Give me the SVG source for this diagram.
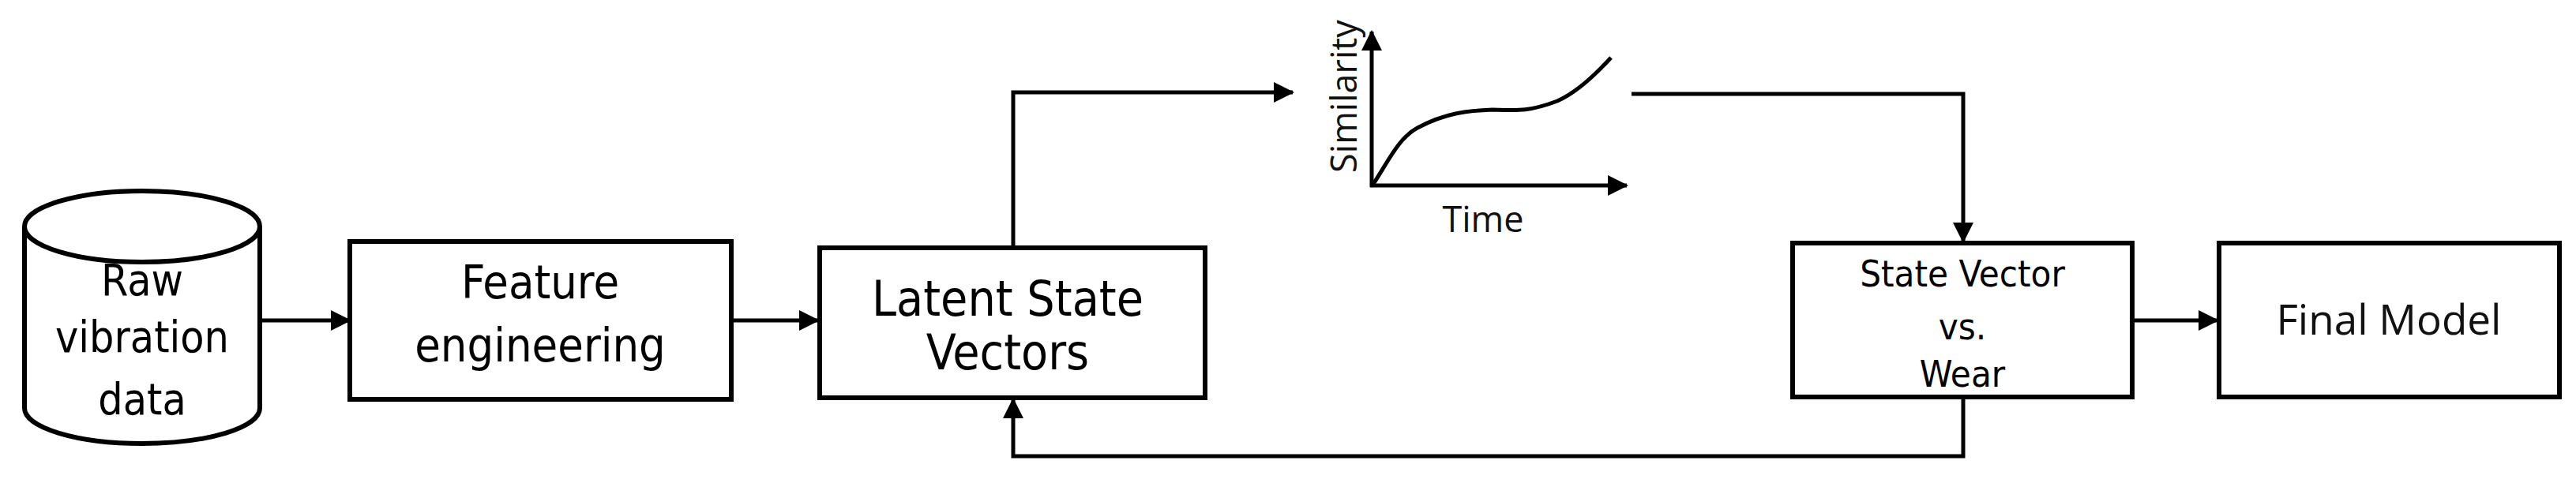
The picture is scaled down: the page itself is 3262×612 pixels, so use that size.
<svg xmlns="http://www.w3.org/2000/svg" width="3262" height="612" viewBox="0 0 3262 612">
<defs>
<style>
.box{fill:#fff;stroke:#000;stroke-width:6}
.ln{fill:none;stroke:#000;stroke-width:5}
.t{font-family:"DejaVu Sans Condensed","DejaVu Sans",sans-serif;fill:#000;text-anchor:middle}
.c{font-family:"Open Sans","Liberation Sans",sans-serif;fill:#111;text-anchor:middle}
</style>
<marker id="a" viewBox="0 0 26 26" refX="24" refY="13" markerWidth="26" markerHeight="26" markerUnits="userSpaceOnUse" orient="auto">
<path d="M0,0 L26,13 L0,26 Z" fill="#000"/>
</marker>
</defs>
<rect width="3262" height="612" fill="#fff"/>
<g id="raw">
<path class="box" d="M31,287 L31,517 A149,45 0 0 0 329,517 L329,287"/>
<ellipse class="box" cx="180" cy="287" rx="149" ry="45"/>
<text class="t" x="180" y="374" font-size="55">Raw</text>
<text class="t" x="180" y="446" font-size="55">vibration</text>
<text class="t" x="180" y="525" font-size="55">data</text>
</g>
<g id="feature">
<rect class="box" x="443" y="306" width="483" height="200"/>
<text class="t" x="684" y="378" font-size="59">Feature</text>
<text class="t" x="684" y="458" font-size="59">engineering</text>
</g>
<g id="latent">
<rect class="box" x="1038" y="314" width="488" height="190"/>
<text class="t" x="1276" y="400" font-size="62">Latent State</text>
<text class="t" x="1276" y="468" font-size="62">Vectors</text>
</g>
<g id="chart">
<line class="ln" x1="1737" y1="237" x2="1737" y2="40" marker-end="url(#a)"/>
<line class="ln" x1="1735" y1="235" x2="2060" y2="235" marker-end="url(#a)"/>
<path class="ln" stroke-width="6" d="M1739,233 C1755,210 1770,175 1795,162 C1830,143 1860,140 1890,139 C1920,140 1935,142 1972,128 C1995,118 2020,95 2040,73"/>
<text class="c" x="1706" y="122" font-size="45" transform="rotate(-90 1706 122)" dominant-baseline="middle">Similarity</text>
<text class="c" x="1878" y="294" font-size="45">Time</text>
</g>
<g id="state">
<rect class="box" x="2270" y="308" width="430" height="195"/>
<text class="t" x="2485" y="363" font-size="47">State Vector</text>
<text class="t" x="2485" y="430" font-size="47">vs.</text>
<text class="t" x="2485" y="490" font-size="47">Wear</text>
</g>
<g id="final">
<rect class="box" x="2810" y="308" width="431" height="195"/>
<text class="c" x="3025" y="424" font-size="53">Final Model</text>
</g>
<g id="connectors">
<line class="ln" x1="329" y1="406" x2="443" y2="406" marker-end="url(#a)"/>
<line class="ln" x1="926" y1="406" x2="1036" y2="406" marker-end="url(#a)"/>
<polyline class="ln" points="1283,312 1283,117 1637,117" marker-end="url(#a)"/>
<polyline class="ln" points="2066,119 2486,119 2486,306" marker-end="url(#a)"/>
<line class="ln" x1="2700" y1="406" x2="2808" y2="406" marker-end="url(#a)"/>
<polyline class="ln" points="2486,503 2486,578 1283,578 1283,506" marker-end="url(#a)"/>
</g>
</svg>
